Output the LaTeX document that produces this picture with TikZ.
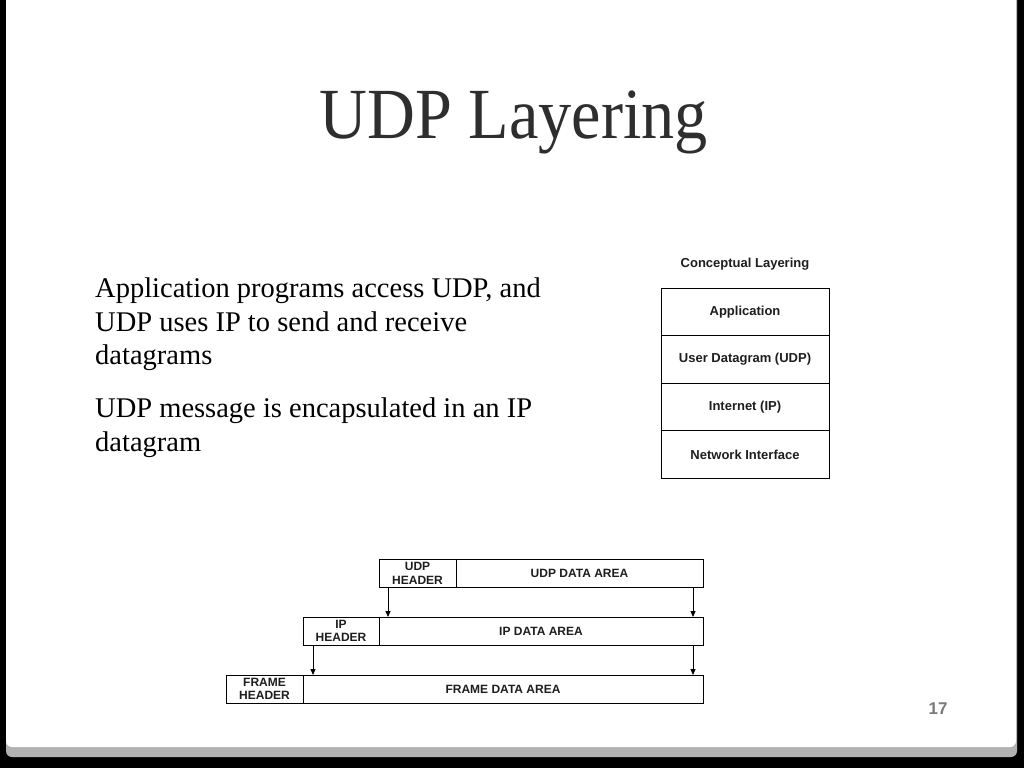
\documentclass[tikz,border=0pt]{standalone}
\usepackage{fontspec}
\setmainfont{Liberation Serif}
\setsansfont{Liberation Sans}
\newfontfamily\titlefont[FakeStretch=0.92]{Liberation Serif}
\usetikzlibrary{positioning,arrows.meta}
\definecolor{titlegray}{HTML}{2E2E2E}
\definecolor{boxtext}{HTML}{1E1E1E}
\definecolor{pagegray}{HTML}{7A7A7A}
\tikzset{
	layer/.style={draw=black, line width=0.8pt, minimum width=168pt, minimum height=47.5pt, outer sep=0pt, inner sep=0pt, font=\sffamily\bfseries\fontsize{13}{15}\selectfont, text=boxtext},
	field/.style={draw=black, line width=0.8pt, minimum height=28pt, outer sep=0pt, inner sep=0pt, align=center, font=\sffamily\bfseries\fontsize{12}{13.5}\selectfont, text=boxtext},
	arr/.style={-{Triangle[length=6pt,width=5pt]}, line width=0.8pt}
}
\begin{document}
\begin{tikzpicture}[x=1pt,y=-1pt]
	\useasboundingbox (0,0) rectangle (1024,768);
	\fill[black] (0,0) rectangle (1024,768);
	\fill[gray!60, rounded corners=6pt] (6,-10) rectangle (1017,757);
	\fill[white, rounded corners=6pt] (6,-10) rectangle (1016,747);

	\node[font=\titlefont\fontsize{72}{76}\selectfont, text=titlegray] (title) at (514,122) {UDP Layering};

	\node[anchor=north west, inner sep=0pt, align=left, font=\fontsize{28.5}{33.5}\selectfont] (para1) at (95,278) {Application programs access UDP, and\\UDP uses IP to send and receive\\datagrams};
	\node[anchor=north west, inner sep=0pt, align=left, font=\fontsize{28.5}{33.5}\selectfont] (para2) at (95,398) {UDP message is encapsulated in an IP\\datagram};

	% conceptual layering
	\node[font=\sffamily\bfseries\fontsize{13}{15}\selectfont, text=boxtext] (concept) at (745,264) {Conceptual Layering};
	\node[layer] (app) at (745,312) {Application};
	\node[layer, below=0pt of app] (udpl) {User Datagram (UDP)};
	\node[layer, below=0pt of udpl] (ipl) {Internet (IP)};
	\node[layer, below=0pt of ipl] (netl) {Network Interface};

	% encapsulation
	\node[field, minimum width=77pt] (uh) at (417.5,573.5) {UDP\\HEADER};
	\node[field, minimum width=247pt, right=0pt of uh] (ud) {UDP DATA AREA};
	\node[field, minimum width=76pt] (ih) at (341,631) {IP\\HEADER};
	\node[field, minimum width=324pt, right=0pt of ih] (id) {IP DATA AREA};
	\node[field, minimum width=77pt] (fh) at (264.5,689) {FRAME\\HEADER};
	\node[field, minimum width=400pt, right=0pt of fh] (fd) {FRAME DATA AREA};

	\draw[arr] ([xshift=9pt]uh.south west) -- ([xshift=9pt]uh.south west |- id.north);
	\draw[arr] ([xshift=-10pt]ud.south east) -- ([xshift=-10pt]ud.south east |- id.north);
	\draw[arr] ([xshift=10pt]ih.south west) -- ([xshift=10pt]ih.south west |- fd.north);
	\draw[arr] ([xshift=-10pt]id.south east) -- ([xshift=-10pt]id.south east |- fd.north);

	\node[font=\sffamily\bfseries\fontsize{17}{19}\selectfont, text=pagegray] (page) at (938,709) {17};
\end{tikzpicture}
\end{document}
